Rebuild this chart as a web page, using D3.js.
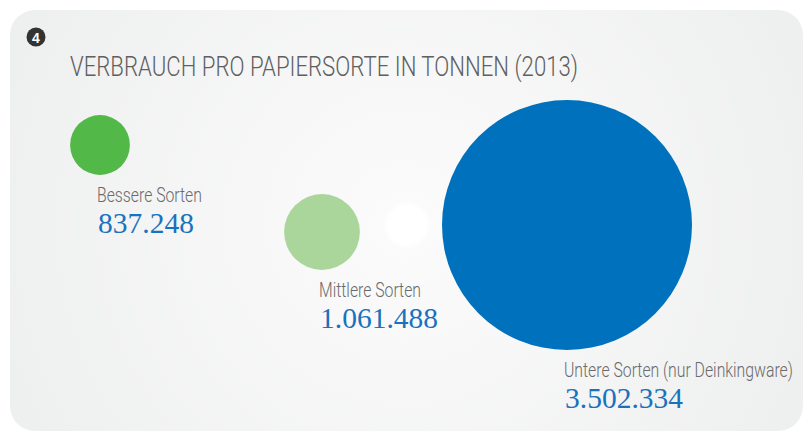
<!DOCTYPE html>
<html>
<head>
<meta charset="utf-8">
<script src="https://cdn.jsdelivr.net/npm/d3@7"></script>
<style>
  body { margin: 0; background: #fff; }
  svg { display: block; }
</style>
</head>
<body>
<div id="chart"></div>
<script>
// data
const sorten = ["Bessere Sorten", "Mittlere Sorten", "Untere Sorten (nur Deinkingware)"];
const tonnen = [837248, 1061488, 3502334];
const farben = ["#52b848", "#aad69c", "#0071bc"];

// layout (circle centres)
const centerX = [100, 322, 567];
const centerY = [145, 232, 225];

const width = 804, height = 432;
const title = "VERBRAUCH PRO PAPIERSORTE IN TONNEN (2013)";

const fmt = v => d3.format(",")(v).replace(/,/g, ".");

const svg = d3.select("#chart").append("svg")
    .attr("width", width)
    .attr("height", height)
    .attr("viewBox", [0, 0, width, height]);

const defs = svg.append("defs");
const bg = defs.append("radialGradient")
    .attr("id", "bg")
    .attr("gradientUnits", "userSpaceOnUse")
    .attr("cx", 405).attr("cy", 225).attr("r", 430);
bg.append("stop").attr("offset", "0%").attr("stop-color", "#fbfbfb");
bg.append("stop").attr("offset", "30%").attr("stop-color", "#f8f8f8");
bg.append("stop").attr("offset", "100%").attr("stop-color", "#eeefef");

const glow = defs.append("radialGradient").attr("id", "glow");
glow.append("stop").attr("offset", "0%").attr("stop-color", "#fff").attr("stop-opacity", 1);
glow.append("stop").attr("offset", "75%").attr("stop-color", "#fff").attr("stop-opacity", 1);
glow.append("stop").attr("offset", "100%").attr("stop-color", "#fff").attr("stop-opacity", 0);

// panel
svg.append("rect")
    .attr("x", 10).attr("y", 10)
    .attr("width", 793).attr("height", 421)
    .attr("rx", 25)
    .attr("fill", "url(#bg)");

svg.append("circle")
    .attr("cx", 407).attr("cy", 225).attr("r", 25)
    .attr("fill", "url(#glow)");

// badge
svg.append("circle")
    .attr("cx", 36).attr("cy", 37).attr("r", 9.5)
    .attr("fill", "#333");
svg.append("text")
    .attr("x", 36).attr("y", 42.5)
    .attr("text-anchor", "middle")
    .attr("fill", "#fff")
    .style("font", "bold 14px 'Liberation Sans', sans-serif")
    .text("4");

svg.append("text")
    .attr("x", 70).attr("y", 76)
    .attr("fill", "#5f5f5f")
    .attr("textLength", 508)
    .attr("lengthAdjust", "spacingAndGlyphs")
    .style("font", "300 27.5px Roboto, sans-serif")
    .text(title);

const r = d3.scaleLinear()
    .domain([0, d3.max(tonnen)])
    .range([0, 125]);

const rows = sorten.map((s, i) => ({name: s, value: tonnen[i], color: farben[i], x: centerX[i], y: centerY[i]}));

svg.append("g")
    .selectAll("circle")
    .data(rows)
    .join("circle")
        .attr("cx", d => d.x)
        .attr("cy", d => d.y)
        .attr("r", d => r(d.value))
        .attr("fill", d => d.color);

const labels = svg.append("g")
    .selectAll("g")
    .data(rows)
    .join("g")
        .attr("transform", d => `translate(${d.x - 3},${d.y + r(d.value) + 27})`);

labels.append("text")
    .attr("fill", "#6a6a6a")
    .style("font", "300 20.5px Roboto, sans-serif")
    .attr("transform", "scale(0.77,1)")
    .text(d => d.name);

labels.append("text")
    .attr("y", 31)
    .attr("x", 1)
    .attr("fill", "#1a72bd")
    .style("font", "29.5px 'Liberation Serif', serif")
    .text(d => fmt(d.value));
</script>
</body>
</html>
